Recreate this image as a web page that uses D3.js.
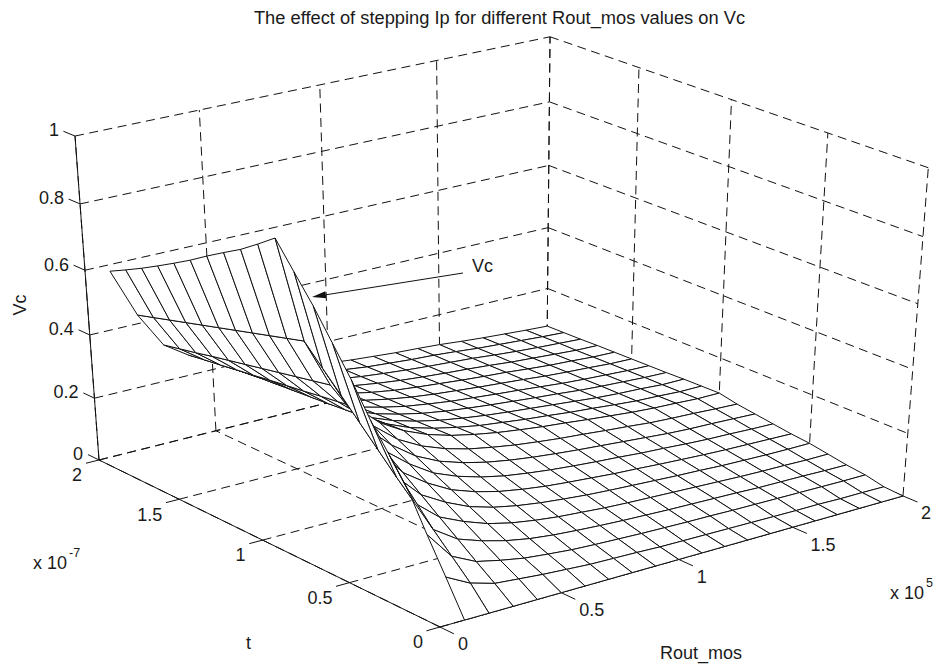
<!DOCTYPE html>
<html>
<head>
<meta charset="utf-8">
<script src="https://d3js.org/d3.v7.min.js"></script>
<style>
  html, body { margin: 0; background: #fff; }
  text { font-family: "Liberation Sans", Arial, sans-serif; font-size: 18px; fill: #1a1a1a; }
</style>
</head>
<body>
<div id="chart-container"></div>
<script>
// Values
const routValues = [1e4, 2e4, 3e4, 4e4, 5e4, 6e4, 7e4, 8e4, 9e4, 1e5, 1.1e5, 1.2e5, 1.3e5, 1.4e5, 1.5e5, 1.6e5, 1.7e5, 1.8e5, 1.9e5, 2e5];
const tValues = [0, 0.1e-7, 0.2e-7, 0.3e-7, 0.4e-7, 0.5e-7, 0.6e-7, 0.7e-7, 0.8e-7, 0.9e-7, 1e-7, 1.1e-7, 1.2e-7, 1.3e-7, 1.4e-7, 1.5e-7, 1.6e-7, 1.7e-7, 1.8e-7, 1.9e-7, 2e-7];

// Vc, one row per t value, one column per Rout_mos value
const vcRows = [
  [0, 0, 0, 0, 0, 0, 0, 0, 0, 0, 0, 0, 0, 0, 0, 0, 0, 0, 0, 0],
  [.106, .066, .044, .037, .030, .025, .020, .018, .016, .013, .012, .011, .010, .009, .008, .007, .007, .005, .005, .004],
  [.210, .122, .085, .068, .054, .046, .039, .035, .032, .029, .027, .025, .024, .022, .021, .020, .019, .018, .017, .017],
  [.320, .178, .128, .102, .082, .068, .059, .053, .048, .044, .041, .038, .036, .034, .032, .029, .028, .027, .025, .024],
  [.400, .233, .170, .136, .109, .091, .079, .070, .064, .058, .054, .051, .048, .045, .042, .039, .037, .036, .034, .034],
  [.480, .288, .213, .170, .136, .114, .099, .088, .080, .073, .068, .064, .060, .056, .053, .049, .047, .045, .044, .044],
  [.575, .346, .256, .204, .163, .137, .118, .105, .095, .088, .082, .076, .072, .067, .063, .059, .056, .054, .052, .050],
  [.660, .404, .298, .238, .190, .160, .138, .122, .111, .102, .095, .089, .084, .078, .074, .069, .065, .063, .060, .058],
  [.745, .462, .341, .272, .218, .182, .158, .140, .127, .117, .109, .102, .096, .090, .084, .078, .074, .072, .069, .066],
  [.820, .519, .383, .306, .245, .205, .177, .157, .143, .131, .122, .114, .108, .101, .095, .088, .084, .081, .077, .074],
  [.896, .577, .426, .340, .272, .228, .197, .175, .159, .146, .136, .127, .120, .112, .105, .098, .093, .090, .086, .086],
  [.857, .562, .415, .332, .268, .225, .194, .173, .157, .144, .135, .126, .119, .111, .105, .098, .092, .089, .085, .085],
  [.820, .547, .404, .325, .264, .221, .192, .171, .155, .143, .133, .125, .118, .111, .104, .097, .092, .089, .084, .084],
  [.789, .532, .393, .317, .259, .218, .189, .169, .153, .141, .132, .124, .117, .110, .104, .097, .092, .088, .084, .082],
  [.757, .517, .382, .310, .255, .215, .186, .167, .151, .140, .130, .123, .116, .110, .103, .096, .091, .087, .083, .081],
  [.723, .502, .371, .303, .251, .212, .184, .165, .150, .138, .129, .122, .115, .109, .103, .096, .091, .087, .082, .080],
  [.692, .487, .360, .295, .247, .208, .181, .163, .148, .136, .128, .121, .114, .108, .103, .096, .090, .086, .081, .079],
  [.662, .472, .349, .288, .243, .205, .178, .161, .146, .135, .126, .119, .113, .108, .102, .095, .090, .085, .080, .078],
  [.633, .457, .337, .280, .238, .202, .175, .159, .144, .133, .125, .118, .112, .107, .102, .095, .089, .084, .080, .076],
  [.606, .442, .326, .273, .234, .198, .173, .157, .142, .132, .123, .117, .111, .107, .101, .094, .089, .084, .079, .075],
  [.580, .427, .315, .265, .230, .195, .170, .155, .140, .130, .122, .116, .110, .106, .101, .094, .088, .083, .078, .074]
];

// Tick labels
const routTicks = [0, 0.5e5, 1e5, 1.5e5, 2e5];
const routTickLabels = ["0", "0.5", "1", "1.5", "2"];
const tTicks = [0, 0.5e-7, 1e-7, 1.5e-7, 2e-7];
const tTickLabels = ["0", "0.5", "1", "1.5", "2"];
const vcTicks = [0, 0.2, 0.4, 0.6, 0.8, 1];
const vcTickLabels = ["0", "0.2", "0.4", "0.6", "0.8", "1"];

const width = 935, height = 666;

const svg = d3.select("#chart-container").append("svg")
    .attr("width", width)
    .attr("height", height)
    .style("display", "block");

// Data to unit cube
const r = d3.scaleLinear().domain([0, 2e5]).range([0, 1]);
const t = d3.scaleLinear().domain([0, 2e-7]).range([0, 1]);
const z = d3.scaleLinear().domain([0, 1]).range([0, 1]);

// Perspective camera of the MATLAB view, fitted on the corners of the box
const cam = [
  [521.1, -332.6, -30.7, 440],
  [-99.1, -128.1, -359.8, 627],
  [0.06435, 0.0846, -0.0621, 1]
];

function homog(u, v, w) {
  return cam.map(c => c[0] * u + c[1] * v + c[2] * w + c[3]);
}

// Project a data point to the screen
function project(rv, tv, zv) {
  const p = homog(r(rv), t(tv), z(zv));
  return [p[0] / p[2], p[1] / p[2]];
}

const line = d3.line();

function addLine(g, a, b) {
  return g.append("path").attr("d", line([a, b]));
}

// Dashed grid on the floor and the two back walls
const grid = svg.append("g")
    .attr("fill", "none")
    .attr("stroke", "#111")
    .attr("stroke-width", 1)
    .attr("stroke-dasharray", "9,5.5");

vcTicks.forEach(v => {
  addLine(grid, project(0, 2e-7, v), project(2e5, 2e-7, v));
  addLine(grid, project(2e5, 2e-7, v), project(2e5, 0, v));
});
routTicks.forEach(v => {
  addLine(grid, project(v, 2e-7, 0), project(v, 2e-7, 1));
  addLine(grid, project(v, 0, 0), project(v, 2e-7, 0));
});
tTicks.forEach(v => {
  addLine(grid, project(2e5, v, 0), project(2e5, v, 1));
  addLine(grid, project(0, v, 0), project(2e5, v, 0));
});

// Solid axes and tick marks
const axes = svg.append("g")
    .attr("fill", "none")
    .attr("stroke", "#111")
    .attr("stroke-width", 1);

addLine(axes, project(0, 2e-7, 0), project(0, 2e-7, 1));
addLine(axes, project(0, 0, 0), project(2e5, 0, 0));
addLine(axes, project(0, 0, 0), project(0, 2e-7, 0));

const labels = svg.append("g");

function addLabel(x, y, txt, anchor) {
  return labels.append("text")
      .attr("x", x)
      .attr("y", y)
      .attr("dy", ".35em")
      .attr("text-anchor", anchor)
      .text(txt);
}

vcTicks.forEach((v, i) => {
  const p = project(0, 2e-7, v);
  addLine(axes, p, project(0, 2.07e-7, v));
  addLabel(p[0] - 16, p[1] - 6, vcTickLabels[i], "end");
});
routTicks.forEach((v, i) => {
  const p = project(v, 0, 0);
  addLine(axes, p, project(v, -0.075e-7, 0));
  addLabel(p[0] + 18, p[1] + 17, routTickLabels[i], "start");
});
tTicks.forEach((v, i) => {
  const p = project(0, v, 0);
  addLine(axes, p, project(-0.055e5, v, 0));
  addLabel(p[0] - 17, p[1] + 15, tTickLabels[i], "end");
});

// Mesh, one white cell at a time from the far corner to the near one
const cells = [];
tValues.slice(0, -1).forEach((tv, j) => {
  routValues.slice(0, -1).forEach((rv, i) => {
    const corners = [
      [i, j], [i + 1, j], [i + 1, j + 1], [i, j + 1]
    ].map(([a, b]) => [routValues[a], tValues[b], vcRows[b][a]]);
    const depth = d3.mean(corners, c => homog(r(c[0]), t(c[1]), z(c[2]))[2]);
    cells.push({ corners, depth });
  });
});
cells.sort((a, b) => d3.descending(a.depth, b.depth));

svg.append("g").selectAll(".cell")
    .data(cells)
    .enter().append("path")
    .attr("class", "cell")
    .attr("d", d => line(d.corners.map(c => project(c[0], c[1], c[2]))) + "Z")
    .attr("fill", "#fff")
    .attr("stroke", "#111")
    .attr("stroke-width", 1)
    .attr("stroke-linejoin", "round");

// Title and axis labels
addLabel(499.5, 18, "The effect of stepping Ip for different Rout_mos values on Vc", "middle")
    .style("font-size", "18.3px");
addLabel(246, 643, "t", "start");
addLabel(660, 653, "Rout_mos", "start");
addLabel(20, 305, "Vc", "middle")
    .attr("x", 0).attr("y", 0)
    .attr("transform", "translate(20,305) rotate(-90)");

// Exponent labels of the two axes
addLabel(33, 563, "x 10", "start");
addLabel(69, 553, "-7", "start").style("font-size", "12.5px");
addLabel(890, 593, "x 10", "start");
addLabel(926, 583, "5", "start").style("font-size", "12.5px");

// Arrow pointing at the surface
const arrowFrom = [463, 273], arrowTo = [312, 297];
const angle = Math.atan2(arrowFrom[1] - arrowTo[1], arrowFrom[0] - arrowTo[0]);
const headLen = 14, headHalf = 3.5;
const back = [arrowTo[0] + headLen * Math.cos(angle), arrowTo[1] + headLen * Math.sin(angle)];
svg.append("path")
    .attr("d", line([arrowFrom, back]))
    .attr("fill", "none")
    .attr("stroke", "#111");
svg.append("path")
    .attr("d", line([
      arrowTo,
      [back[0] - headHalf * Math.sin(angle), back[1] + headHalf * Math.cos(angle)],
      [back[0] + headHalf * Math.sin(angle), back[1] - headHalf * Math.cos(angle)]
    ]) + "Z")
    .attr("fill", "#111");
addLabel(472, 266, "Vc", "start");
</script>
</body>
</html>
